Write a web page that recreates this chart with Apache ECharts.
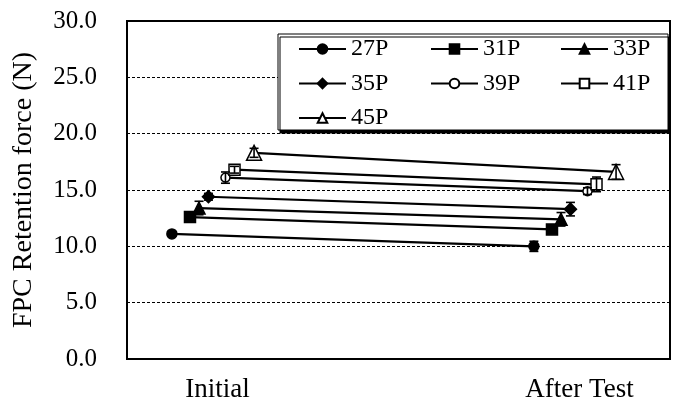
<!DOCTYPE html>
<html>
<head>
<meta charset="utf-8">
<script src="https://cdn.jsdelivr.net/npm/echarts@6/dist/echarts.min.js"></script>
<style>
html,body{margin:0;padding:0;background:#fff;}
#chart{width:677px;height:403px;}
</style>
</head>
<body>
<div id="chart"></div>
<script>
// ---- data ----
const categories = ['Initial', 'After Test'];
const seriesNames = ['27P', '31P', '33P', '35P', '39P', '41P', '45P'];
const initialValues = [11.1, 12.6, 13.4, 14.4, 16.1, 16.8, 18.3];
const afterValues = [10.0, 11.5, 12.4, 13.3, 14.9, 15.5, 16.6];
const initialErrors = [0.2, 0.3, 0.6, 0.3, 0.5, 0.3, 0.4];
const afterErrors = [0.45, 0.3, 0.6, 0.6, 0.3, 0.65, 0.65];

// ---- styles (positions/sizes) ----
const xOffsets = [-0.126, -0.076, -0.051, -0.025, 0.022, 0.047, 0.101];
const symbols = ['circle', 'rect', 'triangle', 'diamond', 'circle', 'rect', 'triangle'];
const symbolSizes = [10, 11, 12, 12, 9, 11, 15];
const hollow = [false, false, false, false, true, true, true];
const FONT = '"Liberation Serif", "Times New Roman", serif';

const chart = echarts.init(document.getElementById('chart'), null, {renderer: 'canvas'});

const series = [];
seriesNames.forEach((name, i) => {
  series.push({
    name: name,
    type: 'line',
    data: [[1 + xOffsets[i], initialValues[i]], [2 + xOffsets[i], afterValues[i]]],
    symbol: symbols[i],
    symbolSize: symbolSizes[i],
    showSymbol: true,
    lineStyle: {color: '#000', width: 2.2},
    itemStyle: {color: hollow[i] ? '#fff' : '#000', borderColor: '#000', borderWidth: 1.5},
    emphasis: {disabled: true},
    animation: false,
    z: 2
  });
});

const errData = [];
seriesNames.forEach((name, i) => {
  errData.push([1 + xOffsets[i], initialValues[i], initialErrors[i]]);
  errData.push([2 + xOffsets[i], afterValues[i], afterErrors[i]]);
});
series.push({
  type: 'custom',
  name: 'err',
  data: errData,
  z: 3,
  silent: true,
  animation: false,
  renderItem: function (params, api) {
    const x = api.value(0), y = api.value(1), e = api.value(2);
    const t = api.coord([x, y + e]);
    const b = api.coord([x, y - e]);
    const hc = 4.5;
    const st = {stroke: '#000', lineWidth: 1.6};
    return {
      type: 'group',
      children: [
        {type: 'line', shape: {x1: t[0], y1: t[1], x2: b[0], y2: b[1]}, style: st},
        {type: 'line', shape: {x1: t[0] - hc, y1: t[1], x2: t[0] + hc, y2: t[1]}, style: st},
        {type: 'line', shape: {x1: b[0] - hc, y1: b[1], x2: b[0] + hc, y2: b[1]}, style: st}
      ]
    };
  }
});

const legendCommon = {
  orient: 'vertical',
  itemWidth: 47,
  itemHeight: 12,
  itemGap: 8.5,
  padding: 0,
  selectedMode: false,
  textStyle: {fontFamily: FONT, fontSize: 24, color: '#000', lineHeight: 26},
  z: 5
};

const option = {
  backgroundColor: '#fff',
  animation: false,
  grid: {left: 127, right: 7, top: 21, bottom: 43, show: true, borderColor: '#000', borderWidth: 2, containLabel: false},
  xAxis: {
    type: 'value',
    min: 0.75,
    max: 2.25,
    interval: 0.25,
    axisLine: {show: false},
    axisTick: {show: false},
    splitLine: {show: false},
    axisLabel: {
      margin: 17,
      fontFamily: FONT,
      fontSize: 27,
      color: '#000',
      formatter: function (v) {
        const k = Math.round(v);
        return Math.abs(v - k) < 1e-6 && k >= 1 && k <= categories.length ? categories[k - 1] : '';
      }
    }
  },
  yAxis: {
    type: 'value',
    min: 0,
    max: 30,
    interval: 5,
    name: 'FPC Retention force (N)',
    nameLocation: 'middle',
    nameRotate: 90,
    nameGap: 89,
    nameTextStyle: {fontFamily: FONT, fontSize: 28, color: '#000'},
    axisLine: {show: false},
    axisTick: {show: false},
    splitLine: {show: true, lineStyle: {color: '#000', width: 1, type: [3, 2]}},
    axisLabel: {
      margin: 30,
      fontFamily: FONT,
      fontSize: 25,
      color: '#000',
      formatter: function (v) { return v.toFixed(1); }
    }
  },
  graphic: [{
    type: 'rect',
    z: 3,
    shape: {x: 278, y: 34, width: 390, height: 96},
    style: {fill: '#fff', stroke: '#000', lineWidth: 1, shadowColor: '#000', shadowOffsetX: 2, shadowOffsetY: 3, shadowBlur: 0}
  }],
  legend: [
    Object.assign({}, legendCommon, {left: 298, top: 36, data: [seriesNames[0], seriesNames[3], seriesNames[6]]}),
    Object.assign({}, legendCommon, {left: 430, top: 36, data: [seriesNames[1], seriesNames[4]]}),
    Object.assign({}, legendCommon, {left: 560, top: 36, data: [seriesNames[2], seriesNames[5]]})
  ],
  series: series
};
chart.setOption(option);
</script>
</body>
</html>
